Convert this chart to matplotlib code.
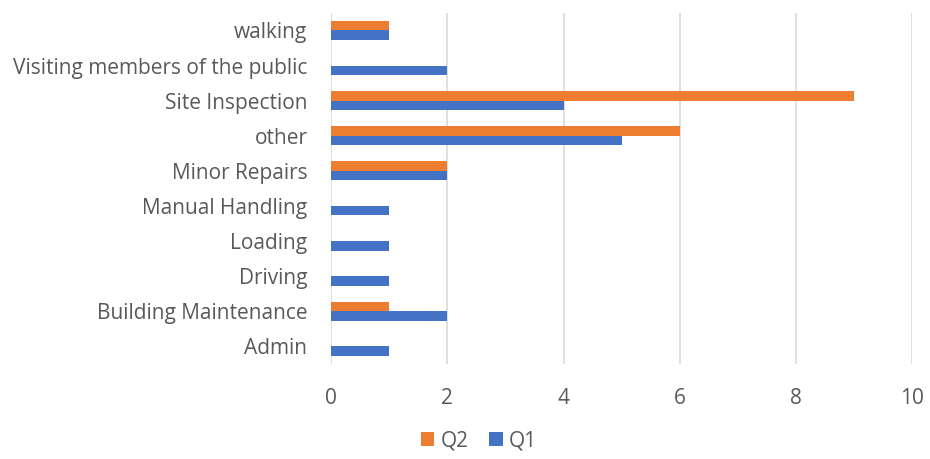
import numpy as np
import matplotlib.pyplot as plt

# data (bottom to top as in the chart)
categories = ["Admin", "Building Maintenance", "Driving", "Loading",
              "Manual Handling", "Minor Repairs", "other", "Site Inspection",
              "Visiting members of the public", "walking"]
q1 = [1, 2, 1, 1, 1, 2, 5, 4, 2, 1]
q2 = [0, 1, 0, 0, 0, 2, 6, 9, 0, 1]
x_ticks = [0, 2, 4, 6, 8, 10]

plt.rcParams['font.family'] = ['Open Sans', 'DejaVu Sans']
text_col = "#595959"

fig = plt.figure(figsize=(9.3, 4.59), dpi=100)
ax = fig.add_axes([0.356, 0.207, 0.625, 0.765])

y = np.arange(len(categories))
h = 0.27
ax.barh(y - h / 2, q1, height=h, color="#4472C4", label="Q1", zorder=3)
ax.barh(y + h / 2, q2, height=h, color="#ED7D31", label="Q2", zorder=3)

ax.set_xlim(0, 10)
ax.set_ylim(-0.5, len(categories) - 0.5)
ax.set_xticks(x_ticks)
ax.set_yticks(y)
ax.set_yticklabels(categories)
ax.tick_params(axis="both", length=0, labelsize=15, colors=text_col)
ax.tick_params(axis="x", pad=17)
ax.tick_params(axis="y", pad=17)
ax.grid(axis="x", color="#D9D9D9", linewidth=1.2, zorder=0)
for s in ax.spines.values():
    s.set_visible(False)

handles, labels = ax.get_legend_handles_labels()
fig.legend(handles[::-1], labels[::-1], loc="lower center",
           bbox_to_anchor=(0.515, -0.025), ncol=2, frameon=False,
           fontsize=15, labelcolor=text_col, handlelength=0.65,
           handleheight=0.65, handletextpad=0.3, columnspacing=1.0)

fig.savefig("out.png", dpi=100)
